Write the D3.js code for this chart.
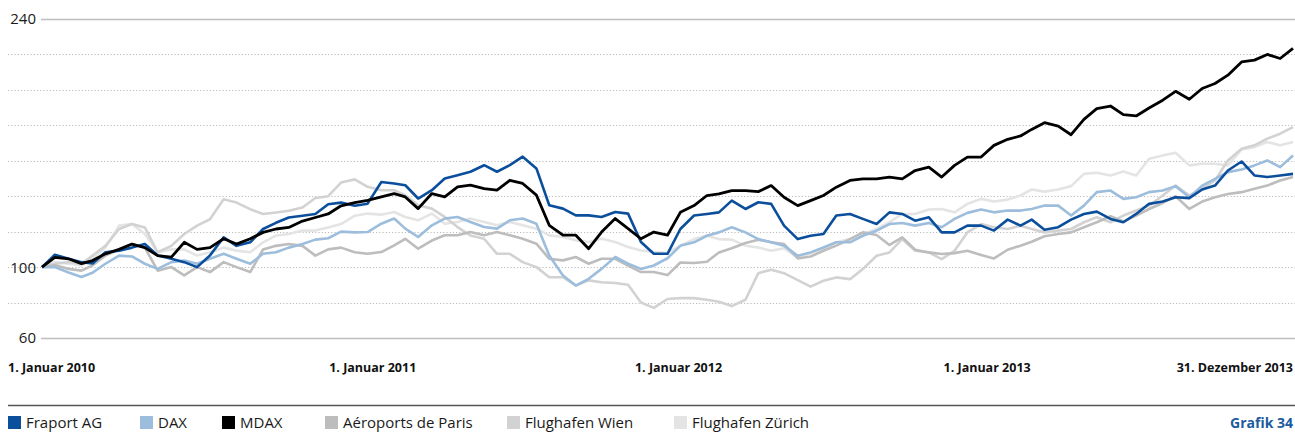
<!DOCTYPE html>
<html><head><meta charset="utf-8">
<script src="https://cdn.jsdelivr.net/npm/d3@7"></script>
<style>body{margin:0;background:#fff;} svg{display:block;}</style>
</head><body><svg id="c" width="1295" height="432"></svg>
<script>
// ---- data (semi-monthly readings, 1 Jan 2010 .. 31 Dec 2013, index 100 = 1 Jan 2010) ----
const seriesNames = ["Fraport AG","DAX","MDAX","Aéroports de Paris","Flughafen Wien","Flughafen Zürich"];
const fraport = [100,107,104.7,102.8,102,108.4,109.3,111,113,106.5,104.7,102.8,100,106.5,116.8,112,114,121.5,125,128,129,130,135.5,136.4,134.6,
135.8,148,147.2,146.2,138.7,143.4,150,151.9,153.8,157.5,153.8,157.5,162.3,155.7,134.9,133,129.2,129.2,128.3,131.1,130.2,114.2,107.5,107.5,
121.5,129.1,130,130.9,137.5,132.8,136.6,135.7,123.4,115.8,117.7,118.7,129.1,130,127.2,124.3,130.9,130,126.2,128.1,119.6,119.6,123.4,123.4,
120.6,126.8,123.4,126.8,121.1,122.5,126.8,130,131.3,127.2,125.3,130,135.7,137,139.4,138.9,143.8,146,154.5,159.6,151.7,150.8,151.7,152.6];
const dax = [100,100,97,94.4,96.8,101.9,106.5,106,101.9,99,102.8,103.7,101.9,104.7,107.5,104.7,101.9,107.5,108.4,111,113,115.5,116.3,120,119.6,
119.8,124.5,127.4,121.7,117,123.6,127.4,128.3,125.5,122.6,121.7,126.4,127.4,124.5,106.6,95.3,89.6,93.4,99,105.7,101.9,99,100.9,105,
112,114,117.7,119.6,122.5,119.6,115.8,114,112.1,106.4,108.3,111.1,114,114,117.7,120.6,124.3,124.9,123.4,124.9,122.5,127.2,130.6,132.5,
130.9,131.9,131.9,132.8,134.7,134.7,129.1,134.7,142.3,143.2,138.5,139.4,142.3,143.2,145.7,139.4,146,149.8,153.6,155.1,157.4,160.2,156.4,163];
const mdax = [100,105.5,104.7,102,103.7,107.5,110,113,111,106.5,105.6,114,110,111,116,113,116,119.6,121.5,122.4,126,128,130,134.6,136.4,
137.7,139.6,141.5,139.6,133,141.5,139.6,145.3,146.2,144.3,143.4,149,147.2,140.6,123.6,118,118,110.4,119.8,127.4,121.7,116,119.8,118,
130.9,134.7,140.4,141.3,143.2,143.2,142.6,146,139.4,134.7,137.5,140.4,145.1,148.9,149.8,149.8,150.8,149.8,154.5,156.4,150.8,157.4,162.1,162.1,
168.7,172.1,174,177.7,181.5,179.6,174.7,183.4,189.4,190.9,186,185.3,189.8,194.2,199.2,194.7,200.8,203.6,208.3,215.8,216.8,220,217.7,223.4];
const paris = [100,101,99,98,101,106.5,110,113,111,98,100,95.3,100,97.2,102.8,100,97.2,110,112,113,112,106.5,110,111,108.4,
107.5,108.5,112.3,116,110.4,115,118,118,119.8,118,119.8,118,116,113.2,104.7,103.8,105.7,101.9,104.7,104.7,100.9,97.2,97.2,95.5,
102.6,102.3,103,108.3,110.6,113.6,115.5,114,113,104.9,106,109.2,112.1,115.8,119.6,118.1,112.5,116.8,109.8,108.3,107.4,107.9,109.2,106.8,
104.9,109.8,112.1,114.3,117.4,118.7,119.6,122.5,125.3,128.7,125.7,129.1,132.8,136.2,140,132.8,137,139.4,141.3,142.3,144.2,146,148.9,150.8];
const wien = [100,101.9,102.8,101.9,106.5,112,121.5,124.3,122.4,108.4,112,118.7,123.4,127,138.3,136.4,132.7,130,130.8,131.8,133.6,139,140,147.7,149.5,
145.3,143.4,143.4,140.6,134.9,133,128.3,122.6,117.9,116,107.5,107.5,102.8,100,94.3,94.3,89.6,92.5,91.5,91,90,80,77,82,
82.5,82.5,81.6,80.5,78,81.6,96.6,98.5,96.6,92.7,89,92.3,94.2,93.2,98.9,106.4,108.3,115.8,109.2,108.3,104.5,109.2,119.6,124.3,
122.5,121.5,123.4,121.5,119.6,120.6,121.5,125.3,128.1,125.3,129.1,131.9,134.7,140.4,146,140.4,144.2,148.9,160.2,166.8,168.7,172.5,175.3,179];
const zuerich = [100,102.8,101.9,101,104.7,111,123.4,124.3,118.7,108.4,110,110,106.5,108.4,111,109.3,108.4,114,117.8,118.7,120.6,120.6,122.4,124.3,129,
130.2,129.6,131.1,128.3,126.4,130.2,124.5,125.5,127.4,125.5,123.6,125.5,123.6,121.7,117.9,117,115.1,114.2,116,114.2,111.3,109.4,108.5,108,
112.1,115.8,117.7,115.8,115.5,112.1,111.1,109.2,110.6,105.5,107.9,110.6,114,115.8,118.7,121.5,125.3,130,130,132.5,132.8,130.9,135.7,138.5,
137,138.1,140.4,143.8,142.6,143.8,145.7,152.6,153.2,151.7,154,151.7,161.1,163,164.5,157.4,158.3,158.3,157.4,166.4,167.7,170.6,168.7,170.6];
const gridValues = [60,80,100,120,140,160,180,200,220,240];
const yTickLabels = [240,100,60];
const xTickDates = ["2010-01-01","2011-01-01","2012-01-01","2013-01-01","2013-12-31"];
const xTickLabels = ["1. Januar 2010","1. Januar 2011","1. Januar 2012","1. Januar 2013","31. Dezember 2013"];
const footerLabel = "Grafik 34";

// ---- dates for the readings: 1st and 16th of each month, last = 31 Dec 2013 ----
const dates = [];
for (let m = 0; m < 48; m++) {
  const y = 2010 + Math.floor(m/12), mo = m % 12;
  dates.push(new Date(y, mo, 1));
  dates.push(new Date(y, mo, 16));
}
dates.push(new Date(2013, 11, 31));

// ---- styles / layout ----
const colors = ["#0b4f9c","#9cbddc","#000000","#bdbdbd","#d2d2d2","#e4e4e4"];
const widths = [2.6,2.6,2.8,2.6,2.6,2.6];
const drawOrder = [5,4,3,1,0,2];
const W = 1295;
const svg = d3.select("#c");
const font = "'Open Sans', 'DejaVu Sans', sans-serif";

const x = d3.scaleTime().domain([new Date(2010,0,1), new Date(2013,11,31)]).range([42, 1293]);
const y = d3.scaleLinear().domain([60, 240]).range([338, 19]);

// gridlines
const solid = new Set([60,240]);
svg.append("g").selectAll("line").data(gridValues).join("line")
  .attr("x1", d => solid.has(d) ? 41 : 8).attr("x2", W)
  .attr("y1", d => Math.round(y(d)) + 0.5).attr("y2", d => Math.round(y(d)) + 0.5)
  .attr("stroke", d => solid.has(d) ? "#bdbdbd" : "#bcbcbc")
  .attr("stroke-width", d => solid.has(d) ? 1.4 : 1)
  .attr("stroke-dasharray", d => solid.has(d) ? null : "1.2,2");

// y labels
svg.append("g").selectAll("text").data(yTickLabels).join("text")
  .attr("x", 36).attr("y", d => y(d)).attr("dy", "0.36em")
  .attr("text-anchor", "end").attr("font-family", font).attr("font-size", 15)
  .attr("fill", "#1a1a1a").text(d => d);

// lines
const all = [fraport, dax, mdax, paris, wien, zuerich];
const line = d3.line().x((d, i) => x(dates[i])).y(d => y(d)).curve(d3.curveLinear);
svg.append("g").selectAll("path").data(drawOrder).join("path")
  .attr("d", i => line(all[i]))
  .attr("fill", "none").attr("stroke", i => colors[i])
  .attr("stroke-width", i => widths[i]).attr("stroke-linejoin", "round");

// x labels
const labelShift = [0, 18, 11, 6, 0];
const anchors = ["start","middle","middle","middle","end"];
svg.append("g").selectAll("text").data(xTickDates).join("text")
  .attr("x", (d, i) => i === 0 ? 8 : x(new Date(d)) + labelShift[i])
  .attr("y", 372)
  .attr("text-anchor", (d, i) => anchors[i])
  .attr("font-family", font).attr("font-weight", 700).attr("font-size", 12.5)
  .attr("fill", "#111").text((d, i) => xTickLabels[i]);

// separator
svg.append("line").attr("x1", 8).attr("x2", W).attr("y1", 405.5).attr("y2", 405.5)
  .attr("stroke", "#555").attr("stroke-width", 1.5);

// legend
const legendX = [8, 140, 222, 325, 507, 674];
const lg = svg.append("g").selectAll("g").data(seriesNames).join("g")
  .attr("transform", (d, i) => `translate(${legendX[i]},416)`);
lg.append("rect").attr("width", 13).attr("height", 13).attr("fill", (d, i) => colors[i]);
lg.append("text").attr("x", 18).attr("y", 6.5).attr("dy", "0.36em")
  .attr("font-family", font).attr("font-size", 15).attr("fill", "#1a1a1a").text(d => d);

svg.append("text").attr("x", 1293).attr("y", 423).attr("dy", "0.36em")
  .attr("text-anchor", "end").attr("font-family", font).attr("font-weight", 700)
  .attr("font-size", 14).attr("fill", "#1b5c9e").text(footerLabel);
</script>
</body></html>
